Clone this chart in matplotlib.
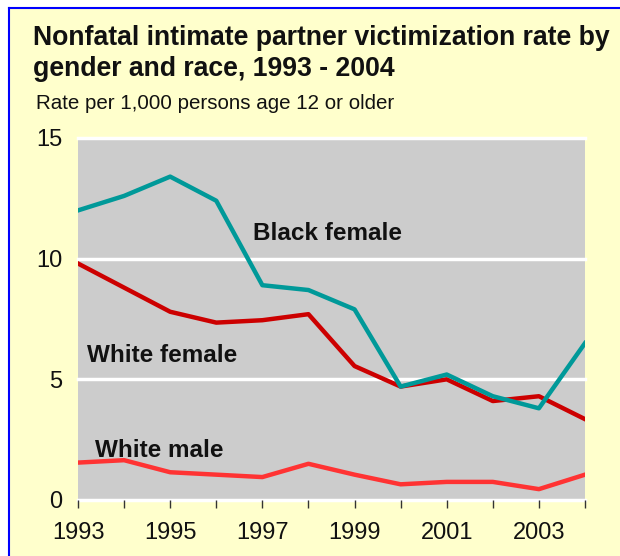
import matplotlib
matplotlib.use("Agg")
import matplotlib.pyplot as plt
from matplotlib.patches import Rectangle
from matplotlib.lines import Line2D

plt.rcParams["font.family"] = ["Liberation Sans", "DejaVu Sans"]

years = [1993, 1994, 1995, 1996, 1997, 1998, 1999, 2000, 2001, 2002, 2003, 2004]
black_female = [12.0, 12.6, 13.4, 12.4, 8.9, 8.7, 7.9, 4.7, 5.2, 4.3, 3.8, 6.5]
white_female = [9.8, 8.8, 7.8, 7.35, 7.45, 7.7, 5.55, 4.7, 5.0, 4.1, 4.3, 3.35]
white_male = [1.55, 1.65, 1.15, 1.05, 0.95, 1.5, 1.05, 0.65, 0.75, 0.75, 0.45, 1.05]
y_ticks = [0, 5, 10, 15]
x_labels = ["1993", "", "1995", "", "1997", "", "1999", "", "2001", "", "2003", ""]

W, H = 620, 556
fig = plt.figure(figsize=(W / 100, H / 100), dpi=100)
fig.patch.set_facecolor("white")

# pale yellow panel with blue left/top border
bg = Rectangle((9 / W, 0), 1 - 9 / W, 1 - 8 / H, transform=fig.transFigure,
               facecolor="#FFFFCC", edgecolor="none", zorder=-10)
fig.patches.append(bg)
fig.lines.append(Line2D([9 / W, 9 / W], [0, 1 - 8 / H], transform=fig.transFigure,
                        color="#0000FF", lw=1.5))
fig.lines.append(Line2D([9 / W, 1], [1 - 8 / H, 1 - 8 / H], transform=fig.transFigure,
                        color="#0000FF", lw=1.5))

left, right, top, bottom = 78, 585, 138, 500
ax = fig.add_axes([left / W, (H - bottom) / H, (right - left) / W, (bottom - top) / H])
ax.set_facecolor("#CCCCCC")
for s in ax.spines.values():
    s.set_visible(False)

ax.set_xlim(1993, 2004)
ax.set_ylim(0, 15)
for v in y_ticks:
    ax.axhline(v, color="white", lw=2.5, zorder=1, clip_on=False)

ax.plot(years, white_male, color="#FF3333", lw=3.2, zorder=3, solid_joinstyle="round")
ax.plot(years, white_female, color="#CC0000", lw=3.2, zorder=4, solid_joinstyle="round")
ax.plot(years, black_female, color="#009999", lw=3.2, zorder=5, solid_joinstyle="round")

ax.set_xticks(years)
ax.set_xticklabels(x_labels)
ax.set_yticks(y_ticks)
ax.tick_params(axis="x", length=6, width=1, color="#333333", pad=10,
               labelsize=17, labelcolor="#111111", direction="out")
ax.tick_params(axis="y", length=0, pad=11, labelsize=17, labelcolor="#111111")

ax.text(1996.8, 11.05, "Black female", fontsize=17.5, fontweight="bold", color="#111111",
        va="center", ha="left")
ax.text(1993.2, 6.0, "White female", fontsize=17.5, fontweight="bold", color="#111111",
        va="center", ha="left")
ax.text(1993.37, 2.05, "White male", fontsize=17.5, fontweight="bold", color="#111111",
        va="center", ha="left")

fig.text(33 / W, 1 - 38 / H, "Nonfatal intimate partner victimization rate by",
         fontsize=19.2, fontweight="bold", color="#111111", va="center", ha="left")
fig.text(33 / W, 1 - 69 / H, "gender and race, 1993 - 2004",
         fontsize=19.2, fontweight="bold", color="#111111", va="center", ha="left")
fig.text(36 / W, 1 - 104 / H, "Rate per 1,000 persons age 12 or older",
         fontsize=14.8, color="#111111", va="center", ha="left")

fig.savefig("out.png", dpi=100, facecolor=fig.get_facecolor())
